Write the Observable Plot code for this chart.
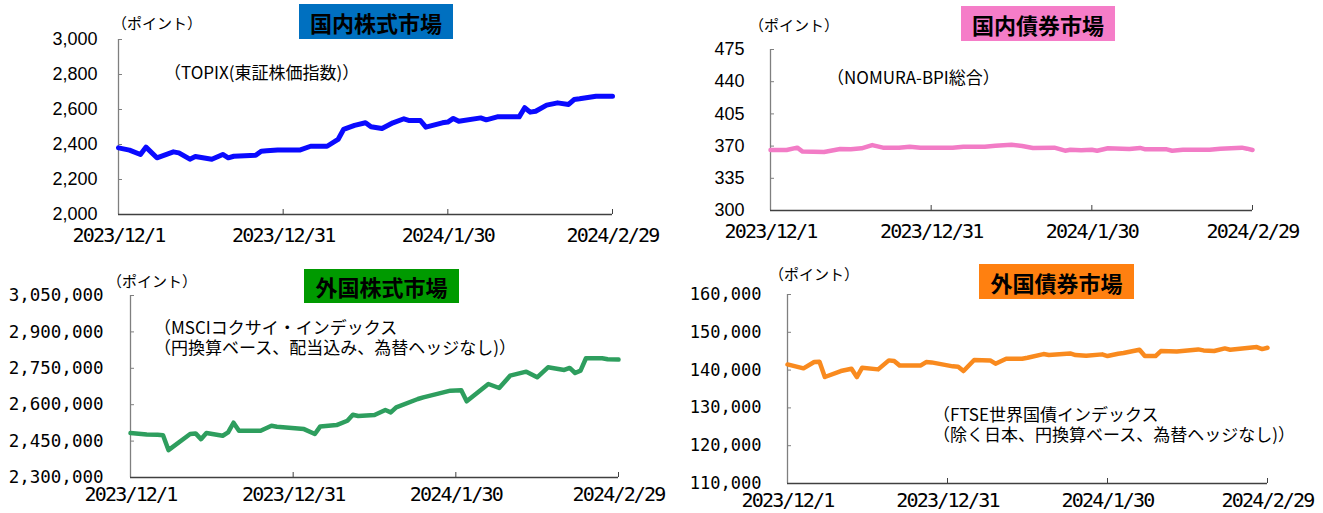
<!DOCTYPE html>
<html><head><meta charset="utf-8">
<script src="https://cdn.jsdelivr.net/npm/d3@7"></script>
<script src="https://cdn.jsdelivr.net/npm/@observablehq/plot@0.6"></script>
<style>
body{margin:0;background:#fff;width:1323px;height:513px;overflow:hidden;position:relative;font-family:"Noto Sans CJK JP",sans-serif;color:#000}
.panel{position:absolute}
.panel svg{overflow:visible}
.title{position:absolute;display:flex;align-items:center;justify-content:center;font-weight:700;font-size:22px;color:#000}
.unit{position:absolute;font-size:15px;line-height:15px;white-space:nowrap}
.note{position:absolute;font-size:17px;line-height:20px;white-space:nowrap}
</style></head><body>
<script>
// ---- data ----
const tickDates = ["2023-12-01","2023-12-31","2024-01-30","2024-02-29"];

const topixDates = ["2023-12-01","2023-12-03","2023-12-05","2023-12-06","2023-12-08","2023-12-11","2023-12-12","2023-12-14","2023-12-15","2023-12-18","2023-12-20","2023-12-21","2023-12-22","2023-12-26","2023-12-27","2023-12-28","2023-12-30","2024-01-03","2024-01-05","2024-01-08","2024-01-10","2024-01-11","2024-01-13","2024-01-15","2024-01-16","2024-01-18","2024-01-20","2024-01-22","2024-01-23","2024-01-25","2024-01-26","2024-01-29","2024-01-30","2024-01-31","2024-02-01","2024-02-05","2024-02-06","2024-02-08","2024-02-12","2024-02-13","2024-02-14","2024-02-15","2024-02-17","2024-02-19","2024-02-21","2024-02-22","2024-02-23","2024-02-26","2024-02-29"];
const topixValues = [2381,2368,2343,2385,2324,2358,2352,2316,2331,2316,2343,2324,2333,2339,2362,2364,2368,2368,2390,2390,2429,2486,2509,2524,2501,2491,2524,2547,2537,2537,2499,2524,2528,2549,2533,2552,2541,2558,2558,2610,2585,2590,2625,2638,2629,2657,2661,2676,2676];

const bpiDates = ["2023-12-01","2023-12-04","2023-12-06","2023-12-07","2023-12-11","2023-12-14","2023-12-16","2023-12-18","2023-12-20","2023-12-22","2023-12-25","2023-12-27","2023-12-29","2024-01-04","2024-01-06","2024-01-10","2024-01-12","2024-01-15","2024-01-17","2024-01-19","2024-01-23","2024-01-25","2024-01-26","2024-01-28","2024-01-30","2024-01-31","2024-02-02","2024-02-06","2024-02-08","2024-02-09","2024-02-13","2024-02-14","2024-02-16","2024-02-21","2024-02-23","2024-02-27","2024-02-28","2024-02-29"];
const bpiValues = [365.8,365.8,368.3,364.0,363.6,366.8,366.5,367.6,371.1,368.3,368.3,369.4,368.3,368.3,369.4,369.4,370.4,371.5,370.1,368.0,368.3,365.0,366.1,365.4,366.1,365.0,367.6,366.8,368.0,366.5,366.5,365.0,366.1,366.1,367.2,368.3,367.2,365.8];

const msciDates = ["2023-12-01","2023-12-04","2023-12-06","2023-12-07","2023-12-08","2023-12-12","2023-12-13","2023-12-14","2023-12-15","2023-12-18","2023-12-19","2023-12-20","2023-12-21","2023-12-25","2023-12-27","2023-12-28","2024-01-02","2024-01-04","2024-01-05","2024-01-08","2024-01-10","2024-01-11","2024-01-12","2024-01-15","2024-01-17","2024-01-18","2024-01-19","2024-01-23","2024-01-24","2024-01-29","2024-01-31","2024-02-01","2024-02-05","2024-02-07","2024-02-09","2024-02-12","2024-02-14","2024-02-16","2024-02-19","2024-02-20","2024-02-21","2024-02-22","2024-02-23","2024-02-26","2024-02-27","2024-02-29"];
const msciValues = [2483000,2477500,2476000,2474000,2413000,2479000,2481700,2458000,2483000,2472000,2485800,2525700,2492700,2492700,2513300,2509200,2499500,2479000,2510500,2516000,2534000,2558700,2553200,2557300,2578000,2568400,2589000,2623400,2630300,2657800,2659200,2613800,2685300,2668800,2719700,2736200,2712800,2754100,2743100,2751400,2730700,2740400,2791300,2791300,2787200,2785800];

const ftseDates = ["2023-12-01","2023-12-04","2023-12-06","2023-12-07","2023-12-08","2023-12-11","2023-12-13","2023-12-14","2023-12-15","2023-12-18","2023-12-20","2023-12-21","2023-12-22","2023-12-26","2023-12-27","2023-12-28","2024-01-01","2024-01-02","2024-01-03","2024-01-05","2024-01-08","2024-01-09","2024-01-11","2024-01-14","2024-01-15","2024-01-18","2024-01-19","2024-01-23","2024-01-24","2024-01-26","2024-01-29","2024-01-30","2024-02-01","2024-02-02","2024-02-05","2024-02-06","2024-02-08","2024-02-09","2024-02-12","2024-02-16","2024-02-17","2024-02-19","2024-02-21","2024-02-22","2024-02-27","2024-02-28","2024-02-29"];
const ftseValues = [141500,140460,142130,142220,138170,139750,140370,138170,140630,140190,142570,142390,141250,141250,142130,142040,140990,140900,139750,142660,142570,141690,143010,143010,143280,144240,143980,144420,143980,143800,144160,143720,144330,144510,145390,143720,143720,145040,144950,145480,145210,145040,145740,145390,146090,145560,145920];

const yTicks1 = [2000,2200,2400,2600,2800,3000];
const yTicks2 = [300,335,370,405,440,475];
const yTicks3 = [2300000,2450000,2600000,2750000,2900000,3050000];
const yTicks4 = [110000,120000,130000,140000,150000,160000];

const titles = ["国内株式市場","国内債券市場","外国株式市場","外国債券市場"];
const unitLabel = "（ポイント）";
const notes = [["（TOPIX(東証株価指数)）"],["（NOMURA-BPI総合）"],["（MSCIコクサイ・インデックス","（円換算ベース、配当込み、為替ヘッジなし)）"],["（FTSE世界国債インデックス","（除く日本、円換算ベース、為替ヘッジなし)）"]];

// ---- drawing ----
const fmtDate = d => `${d.getUTCFullYear()}/${d.getUTCMonth()+1}/${d.getUTCDate()}`;
const MONO = "DejaVu Sans Mono, monospace";
const SANS = "Liberation Sans, Arial, sans-serif";

function makePanel(cfg) {
  const data = cfg.dates.map((d, i) => ({date: new Date(d), value: cfg.values[i]}));
  const xt = tickDates.map(d => new Date(d));
  const x0 = xt[0], x1 = xt[xt.length - 1];
  const yd = [cfg.yTicks[0], cfg.yTicks[cfg.yTicks.length - 1]];
  const svg = Plot.plot({
    width: cfg.width, height: cfg.height,
    marginLeft: cfg.ml, marginRight: cfg.mr, marginTop: cfg.mt, marginBottom: cfg.mb,
    x: {type: "utc", domain: [x0, x1], axis: null},
    y: {domain: yd, axis: null},
    style: {background: "transparent", overflow: "visible", color: "#000"},
    marks: [
      Plot.axisY({ticks: cfg.yTicks, tickSize: -4, tickPadding: cfg.yPad, tickFormat: cfg.yFmt, label: null,
        stroke: "#7f7f7f", fill: "#000", fontSize: cfg.yFontSize, fontFamily: cfg.yFont}),
      Plot.axisX({ticks: xt, tickSize: -5, tickPadding: cfg.xPad, tickFormat: fmtDate, label: null,
        stroke: "#404040", fill: "#000", fontSize: 20, fontFamily: MONO}),
      Plot.ruleX([x0], {stroke: "#7f7f7f", strokeWidth: 1.3}),
      Plot.ruleY([yd[0]], {stroke: "#404040", strokeWidth: 1.3}),
      Plot.line(data, {x: "date", y: "value", stroke: cfg.color, strokeWidth: cfg.sw,
        strokeLinejoin: "round", strokeLinecap: "round"})
    ]
  });
  svg.querySelectorAll('g[aria-label="x-axis tick label"] text').forEach(t => t.style.letterSpacing = "-1.8px");
  const div = document.createElement("div");
  div.className = "panel";
  div.style.left = cfg.left + "px"; div.style.top = cfg.top + "px";
  div.appendChild(svg);
  document.body.appendChild(div);
}

function addBox(cls, text, left, top, extra) {
  const el = document.createElement("div");
  el.className = cls;
  el.style.left = left + "px"; el.style.top = top + "px";
  Object.assign(el.style, extra || {});
  if (Array.isArray(text)) text.forEach(line => {
    const s = document.createElement("div"); s.textContent = line; el.appendChild(s);
  }); else el.textContent = text;
  document.body.appendChild(el);
}

const fmtComma = d3.format(",");
makePanel({dates: topixDates, values: topixValues, color: "#0a0aff", sw: 5,
  yTicks: yTicks1, yFmt: fmtComma, yFont: SANS, yFontSize: 18, yPad: 25, xPad: 18,
  left: 0, top: 0, width: 660, height: 256, ml: 118, mr: 48, mt: 39, mb: 42});
makePanel({dates: bpiDates, values: bpiValues, color: "#f27cc6", sw: 4.5,
  yTicks: yTicks2, yFmt: d => String(d), yFont: SANS, yFontSize: 18, yPad: 30, xPad: 18,
  left: 660, top: 0, width: 663, height: 256, ml: 110, mr: 71, mt: 49, mb: 46});
makePanel({dates: msciDates, values: msciValues, color: "#2e9e5e", sw: 4.5,
  yTicks: yTicks3, yFmt: fmtComma, yFont: MONO, yFontSize: 17.5, yPad: 31, xPad: 14,
  left: 0, top: 256, width: 660, height: 257, ml: 130, mr: 42, mt: 39, mb: 36});
makePanel({dates: ftseDates, values: ftseValues, color: "#f98a1e", sw: 4.5,
  yTicks: yTicks4, yFmt: fmtComma, yFont: MONO, yFontSize: 17, yPad: 30, xPad: 14,
  left: 660, top: 256, width: 663, height: 257, ml: 127, mr: 56, mt: 38, mb: 30});

const titleBoxes = [[299,4,154,35,"#0070c0"],[961,6,154,35,"#f57dc8"],[304,269,155,34,"#009a00"],[979,264,155,35,"#ff8010"]];
titleBoxes.forEach(([l,t,w,h,bg], i) => addBox("title", titles[i], l, t, {width: w+"px", height: h+"px", background: bg}));
const unitPos = [[112,15],[749,17],[107,273],[769,266]];
unitPos.forEach(([l,t]) => addBox("unit", unitLabel, l, t));
const notePos = [[164,62],[827,67],[154,317],[933,404]];
notePos.forEach(([l,t], i) => addBox("note", notes[i], l, t));
</script>
</body></html>
